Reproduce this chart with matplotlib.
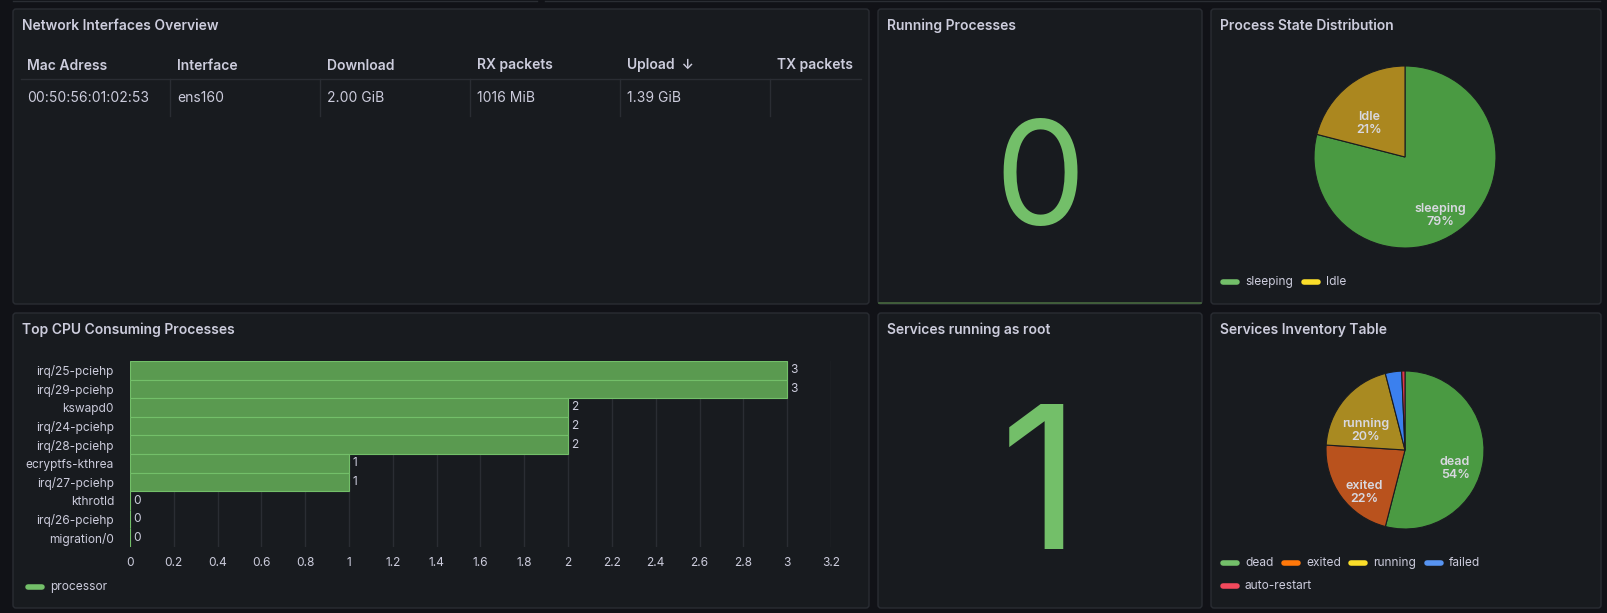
import numpy as np
import matplotlib
matplotlib.use('Agg')
import matplotlib.pyplot as plt
from matplotlib.patches import FancyBboxPatch
from matplotlib.lines import Line2D
from matplotlib.transforms import Affine2D

plt.rcParams['font.family'] = ['Inter', 'DejaVu Sans']

# ---- data ----
table_cols = ['Mac Adress', 'Interface', 'Download', 'RX packets', 'Upload', 'TX packets']
table_row = ['00:50:56:01:02:53', 'ens160', '2.00 GiB', '1016 MiB', '1.39 GiB', '']

running_processes = 0
root_services = 1

proc_states = ['sleeping', 'Idle']
proc_counts = [79, 21]

procs = ['irq/25-pciehp', 'irq/29-pciehp', 'kswapd0', 'irq/24-pciehp', 'irq/28-pciehp',
         'ecryptfs-kthrea', 'irq/27-pciehp', 'kthrotld', 'irq/26-pciehp', 'migration/0']
cpu = [3, 3, 2, 2, 2, 1, 1, 0, 0, 0]
cpu_ticks = [0, 0.2, 0.4, 0.6, 0.8, 1, 1.2, 1.4, 1.6, 1.8, 2, 2.2, 2.4, 2.6, 2.8, 3, 3.2]

svc_states = ['dead', 'exited', 'running', 'failed', 'auto-restart']
svc_counts = [81, 33, 30, 5, 1]

# ---- style ----
W, H = 1608, 613
BG = '#111217'
PANEL = '#181b1f'
BORDER = '#2a2d33'
TXT = '#ccccdc'
GREEN = '#73bf69'
slice_fill = {'sleeping': '#4a9a42', 'Idle': '#ab871f', 'dead': '#4a9a42',
              'exited': '#b9521d', 'running': '#a98a21', 'failed': '#3b80ee',
              'auto-restart': '#e0364a'}
legend_col = {'sleeping': '#73bf69', 'Idle': '#fade2a', 'dead': '#73bf69',
              'exited': '#ff780a', 'running': '#fade2a', 'failed': '#5794f2',
              'auto-restart': '#f2495c'}

fig = plt.figure(figsize=(W / 100, H / 100), dpi=100, facecolor=BG)
T = Affine2D().scale(1 / W, -1 / H).translate(0, 1) + fig.transFigure


def panel(x0, y0, x1, y1, title):
    fig.add_artist(FancyBboxPatch((x0, y0), x1 - x0, y1 - y0, boxstyle='round,pad=0,rounding_size=3',
                                  transform=T, facecolor=PANEL, edgecolor=BORDER, lw=1, zorder=0))
    fig.text(x0 + 9, y0 + 17, title, transform=T, color=TXT, fontsize=10, fontweight='semibold',
             ha='left', va='center')


def hline(x0, x1, y, color=BORDER, lw=1):
    fig.add_artist(Line2D([x0, x1], [y, y], transform=T, color=color, lw=lw))


def vline(x, y0, y1, color=BORDER, lw=1):
    fig.add_artist(Line2D([x, x], [y0, y1], transform=T, color=color, lw=lw))


def legend_item(x, y, label):
    fig.add_artist(Line2D([x, x + 14], [y, y], transform=T, color=legend_col.get(label, GREEN),
                          lw=4, solid_capstyle='round'))
    fig.text(x + 22, y, label, transform=T, color=TXT, fontsize=8.6, ha='left', va='center')


def add_ax(cx, cy, r):
    return fig.add_axes([(cx - r) / W, 1 - (cy + r) / H, 2 * r / W, 2 * r / H])


# strip of the row above
hline(13, 537, 0.5)
hline(545, 1600, 0.5)

panel(13, 9, 869, 304, 'Network Interfaces Overview')
panel(878, 9, 1202, 304, 'Running Processes')
panel(1211, 9, 1601, 304, 'Process State Distribution')
panel(13, 313, 869, 608, 'Top CPU Consuming Processes')
panel(878, 313, 1202, 608, 'Services running as root')
panel(1211, 313, 1601, 608, 'Services Inventory Table')

# ---- table ----
col_w = 150
tx0 = 21
for i, (c, v) in enumerate(zip(table_cols, table_row)):
    x = tx0 + i * col_w
    lab = c + '  \u2193' if c == 'Upload' else c
    fig.text(x + 6.5, 65.5, lab, transform=T, color=TXT, fontsize=10, fontweight='semibold',
             ha='left', va='center')
    fig.text(x + 6.5, 98.5, v, transform=T, color=TXT, fontsize=10, ha='left', va='center')
    if i > 0:
        vline(x - 1, 79, 116)
hline(tx0, 861, 79)

# ---- stats ----
fig.text(1040, 225, str(running_processes), transform=T, color=GREEN, fontsize=104,
         ha='center', va='baseline')
hline(879, 1201, 302.5, color='#47693f', lw=1.2)
fig.text(1040, 549, str(root_services), transform=T, color=GREEN, fontsize=143,
         ha='center', va='baseline')

# ---- bar chart ----
ax = fig.add_axes([130 / W, 1 - 547 / H, (831 - 130) / W, (547 - 361) / H])
ax.set_facecolor('none')
ypos = np.arange(len(procs))
bars = ax.barh(ypos, cpu, height=1.0, color='#5a9a50', edgecolor=GREEN, lw=0.8, zorder=2)
ax.bar_label(bars, labels=[str(v) for v in cpu], padding=2.5, color=TXT, fontsize=8.6)
ax.set_xlim(0, 3.2)
ax.set_ylim(len(procs) - 0.5, -0.5)
ax.set_yticks(ypos)
ax.set_yticklabels(procs)
ax.set_xticks(cpu_ticks)
ax.set_xticklabels(['{:g}'.format(t) for t in cpu_ticks])
ax.tick_params(axis='both', length=0, colors=TXT, labelsize=8.6)
ax.tick_params(axis='y', pad=11.5)
ax.tick_params(axis='x', pad=7)
ax.grid(axis='x', color='#2a2d33', lw=1, zorder=0)
for s in ax.spines.values():
    s.set_visible(False)
legend_item(28, 587, 'processor')


# ---- pies ----
def pie(cx, cy, r, labels, counts):
    pax = add_ax(cx, cy, r)
    wedges, _ = pax.pie(counts, startangle=90, counterclock=False, radius=1,
                        colors=[slice_fill[l] for l in labels],
                        wedgeprops=dict(edgecolor='#1a1c20', lw=0.8))
    pax.set_xlim(-1, 1)
    pax.set_ylim(-1, 1)
    pax.set_aspect('equal')
    pax.axis('off')
    total = float(sum(counts))
    for w, l, c in zip(wedges, labels, counts):
        pct = 100 * c / total
        if pct < 10:
            continue
        a = np.deg2rad((w.theta1 + w.theta2) / 2)
        d = 0.64
        pax.text(d * np.cos(a), d * np.sin(a), '%s\n%d%%' % (l, round(pct)), color='#d8d8e0',
                 fontsize=9, fontweight='semibold', ha='center', va='top', linespacing=1.1)


pie(1405, 157, 91, proc_states, proc_counts)
legend_item(1223, 282, 'sleeping')
legend_item(1304, 282, 'Idle')

pie(1405, 450, 79, svc_states, svc_counts)
legend_item(1223, 563, 'dead')
legend_item(1284, 563, 'exited')
legend_item(1351, 563, 'running')
legend_item(1427, 563, 'failed')
legend_item(1223, 586, 'auto-restart')

fig.savefig('out.png', dpi=100, facecolor=BG)
